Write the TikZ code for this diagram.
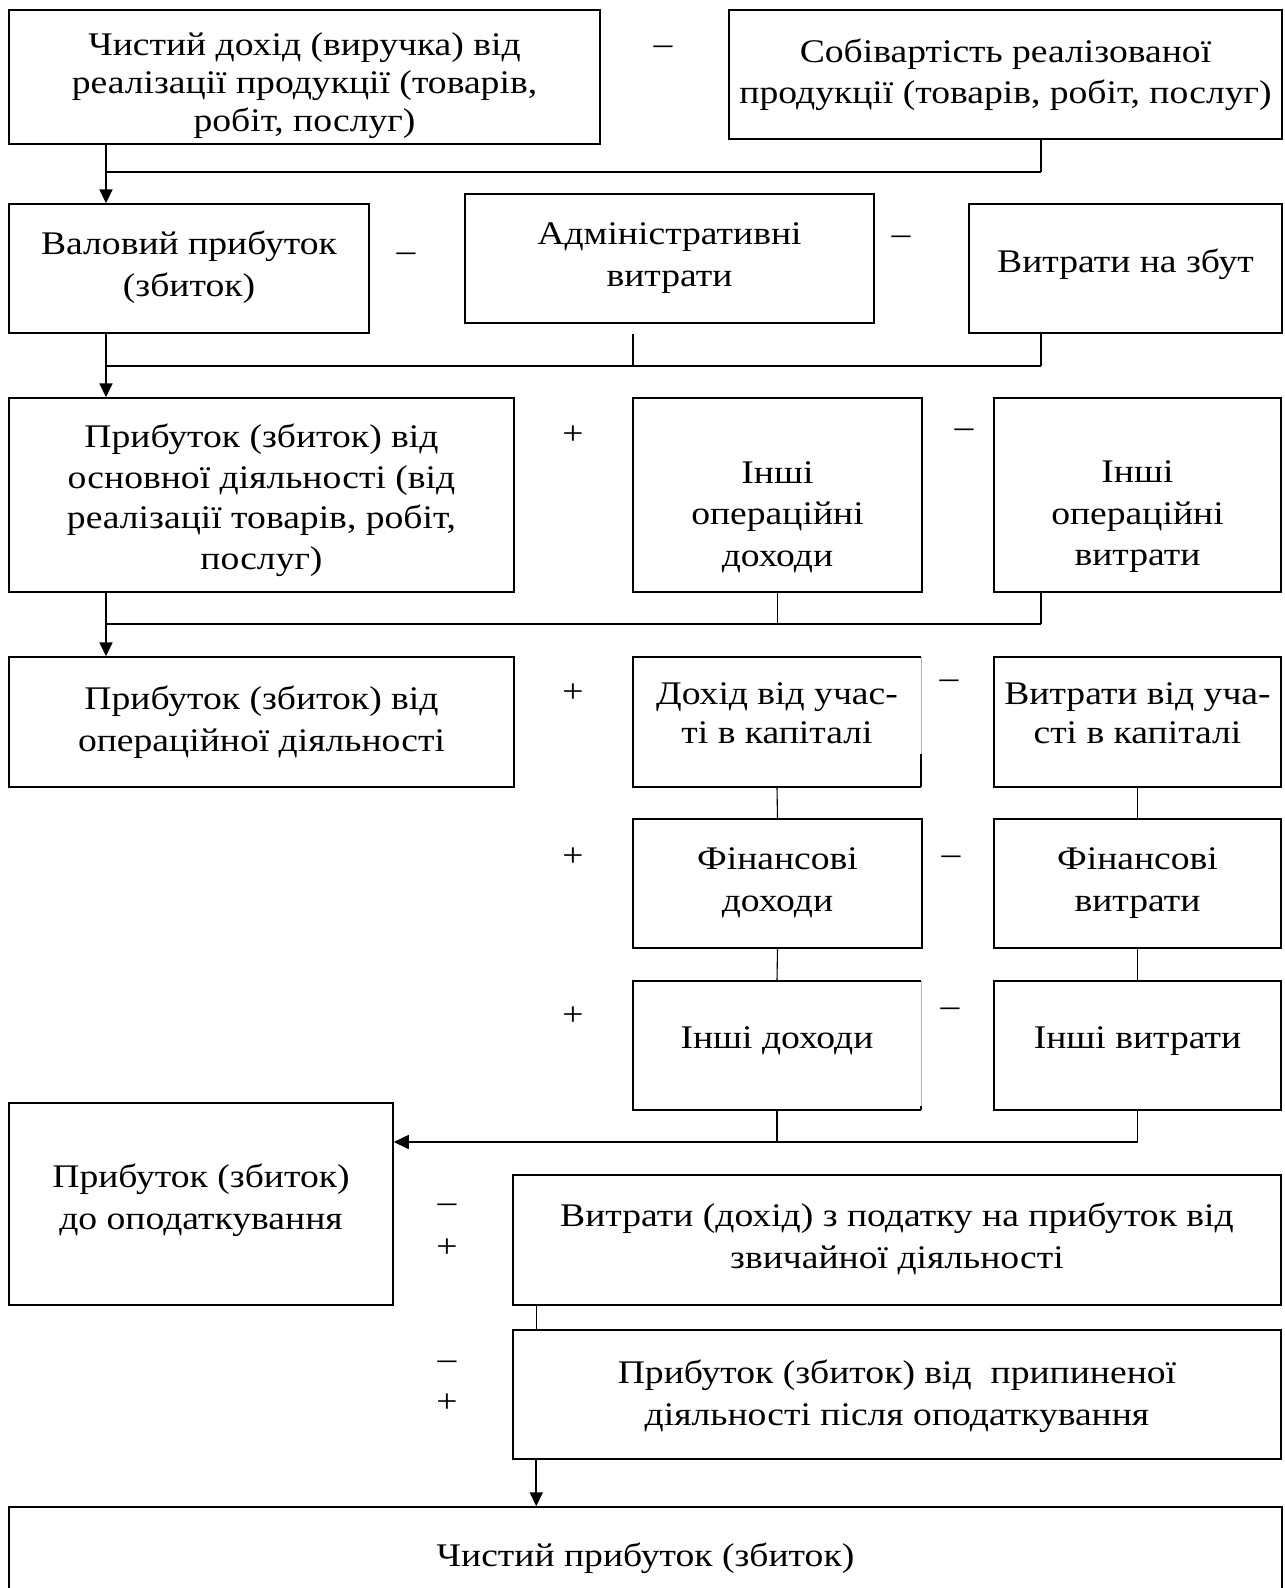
\documentclass[tikz,border=0pt]{standalone}
\usepackage{fontspec}
\setmainfont[FakeStretch=1.14]{Liberation Serif}
\usetikzlibrary{arrows.meta}
\begin{document}
\begin{tikzpicture}[x=1pt,y=-1pt,
  box/.style={draw,line width=1.5pt,inner sep=0pt,rectangle},
  nobox/.style={inner sep=0pt,rectangle},
  txt/.style={inner sep=0pt,align=center,font=\fontsize{33}{41.5}\selectfont},
  sign/.style={inner sep=0pt,font=\fontsize{33}{37}\selectfont},
  edge/.style={line width=1.5pt},
  faint/.style={line width=0.8pt,black!30},
  bus/.style={line width=1.6pt},
  thinl/.style={line width=1.1pt},
  arr/.style={line width=1.8pt,-{Triangle[length=14pt,width=13pt]}},
  arrh/.style={line width=1.6pt,-{Triangle[length=15pt,width=14pt]}}]
\useasboundingbox (0,0) rectangle (1285,1588);

% ---- boxes ----
\node[box,minimum width=591pt,minimum height=134pt] (A) at (304.5,77) {};
\node[box,minimum width=553pt,minimum height=129pt] (B) at (1005.5,74.5) {};
\node[box,minimum width=360pt,minimum height=129pt] (C) at (189,268.5) {};
\node[box,minimum width=409pt,minimum height=129pt] (D) at (669.5,258.5) {};
\node[box,minimum width=313pt,minimum height=129pt] (E) at (1125.5,268.5) {};
\node[box,minimum width=505pt,minimum height=194pt] (F) at (261.5,495) {};
\node[box,minimum width=289pt,minimum height=194pt] (G) at (777.5,495) {};
\node[box,minimum width=287pt,minimum height=194pt] (H) at (1137.5,495) {};
\node[box,minimum width=505pt,minimum height=130pt] (I) at (261.5,722) {};
\node[nobox,minimum width=288pt,minimum height=130pt] (J) at (777,722) {};
\node[box,minimum width=287pt,minimum height=130pt] (K) at (1137.5,722) {};
\node[box,minimum width=289pt,minimum height=129pt] (L) at (777.5,883.5) {};
\node[box,minimum width=287pt,minimum height=129pt] (M) at (1137.5,883.5) {};
\node[nobox,minimum width=288pt,minimum height=129pt] (N) at (777,1045.5) {};
\node[box,minimum width=287pt,minimum height=129pt] (O) at (1137.5,1045.5) {};
\node[box,minimum width=384pt,minimum height=202pt] (P) at (201,1204) {};
\node[box,minimum width=768pt,minimum height=130pt] (Q) at (897,1240) {};
\node[box,minimum width=768pt,minimum height=129pt] (R) at (897,1394.5) {};
\node[box,minimum width=1273pt,minimum height=113pt] (S) at (645.5,1563.5) {};

% boxes with a faint right side
\draw[edge] (J.north east) -- (J.north west) -- (J.south west) -- (J.south east);
\draw[faint] (J.north east) -- (J.south east);
\draw[edge] ([yshift=33pt]J.south east) -- (J.south east);
\draw[edge] (N.north east) -- (N.north west) -- (N.south west) -- (N.south east);
\draw[faint] (N.north east) -- (N.south east);
\draw[edge] ([yshift=4pt]N.south east) -- (N.south east);

% ---- texts ----
\node[txt,font=\fontsize{33}{38}\selectfont] (At) at (304.5,86) {Чистий дохід (виручка) від\\реалізації продукції (товарів,\\робіт, послуг)};
\node[txt] (Bt) at (1005.5,74.5) {Собівартість реалізованої\\продукції (товарів, робіт, послуг)};
\node[txt] (Ct) at (189,267) {Валовий прибуток\\(збиток)};
\node[txt] (Dt) at (669.5,258) {Адміністративні\\витрати};
\node[txt] (Et) at (1125.5,264) {Витрати на збут};
\node[txt,font=\fontsize{33}{40.5}\selectfont] (Ft) at (261.5,500) {Прибуток (збиток) від\\основної діяльності (від\\реалізації товарів, робіт,\\послуг)};
\node[txt] (Gt) at (777.5,517) {Інші\\операційні\\доходи};
\node[txt] (Ht) at (1137.5,517) {Інші\\операційні\\витрати};
\node[txt] (It) at (261.5,722) {Прибуток (збиток) від\\операційної діяльності};
\node[txt,font=\fontsize{33}{39}\selectfont] (Jt) at (777,713) {Дохід від учас-\\ті в капіталі};
\node[txt,font=\fontsize{33}{39}\selectfont] (Kt) at (1137.5,713) {Витрати від уча-\\сті в капіталі};
\node[txt] (Lt) at (777.5,883) {Фінансові\\доходи};
\node[txt] (Mt) at (1137.5,883) {Фінансові\\витрати};
\node[txt] (Nt) at (777,1041) {Інші доходи};
\node[txt] (Ot) at (1137.5,1041) {Інші витрати};
\node[txt] (Pt) at (201,1200) {Прибуток (збиток)\\до оподаткування};
\node[txt] (Qt) at (897,1239) {Витрати (дохід) з податку на прибуток від\\звичайної діяльності};
\node[txt] (Rt) at (897,1396) {Прибуток (збиток) від\ \ припиненої\\діяльності після оподаткування};
\node[txt] (St) at (645.5,1558) {Чистий прибуток (збиток)};

% ---- signs ----
\node[sign] (s1) at (663,50) {–};
\node[sign] (s2) at (406,257) {–};
\node[sign] (s3) at (901,240) {–};
\node[sign] (s4) at (573,435) {+};
\node[sign] (s5) at (964,433) {–};
\node[sign] (s6) at (573,693) {+};
\node[sign] (s7) at (949,684) {–};
\node[sign] (s8) at (573,857) {+};
\node[sign] (s9) at (951,860) {–};
\node[sign] (s10) at (573,1016) {+};
\node[sign] (s11) at (950,1012) {–};
\node[sign] (s12) at (447,1208) {–};
\node[sign] (s13) at (447,1248) {+};
\node[sign] (s14) at (447,1365) {–};
\node[sign] (s15) at (447,1403) {+};

% ---- connectors ----
\coordinate (j1) at (106,172);
\coordinate (b1) at (1041,172);
\draw[thinl] (B.south -| b1) -- (b1);
\draw[bus] (j1) -- (b1);
\draw[arr] (A.south -| j1) -- (C.north -| j1);

\coordinate (j2) at (106,366);
\coordinate (d2) at (633,366);
\coordinate (e2) at (1041,366);
\draw[thinl] ([yshift=-10pt]D.south -| d2) -- (d2);
\draw[thinl] (E.south -| e2) -- (e2);
\draw[bus] (j2) -- (e2);
\draw[arr] (C.south -| j2) -- (F.north -| j2);

\coordinate (j3) at (106,624);
\coordinate (h3) at (1041,624);
\draw[thinl] (G.south) -- (G.south |- h3);
\draw[thinl] (H.south -| h3) -- (h3);
\draw[bus] (j3) -- (h3);
\draw[arr] (F.south -| j3) -- (I.north -| j3);

\draw[thinl] (J.south) -- (L.north);
\draw[thinl] (L.south) -- (N.north);
\draw[thinl] (K.south) -- (M.north);
\draw[thinl] (M.south) -- (O.north);

\coordinate (o6) at (1137.5,1142);
\draw[thinl] (N.south) -- (N.south |- o6);
\draw[thinl] (O.south) -- (o6);
\draw[arrh] (o6) -- (P.east |- o6);

\coordinate (q1) at ([xshift=24pt]Q.south west);
\draw[thinl] (q1) -- (q1 |- R.north);
\coordinate (r1) at ([xshift=24pt]R.south west);
\draw[arr] (r1) -- (r1 |- S.north);
\end{tikzpicture}
\end{document}
